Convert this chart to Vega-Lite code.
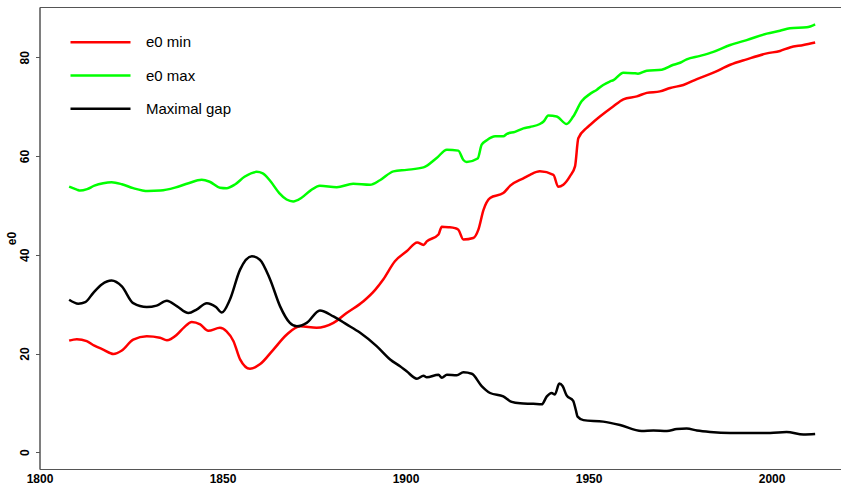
{
  "$schema": "https://vega.github.io/schema/vega-lite/v6.json",
  "width": 802,
  "height": 462,
  "autosize": {"type": "none"},
  "padding": {"left": 39.5, "top": 7, "right": 0, "bottom": 16},
  "background": "white",
  "config": {
    "font": "Liberation Sans",
    "view": {"stroke": "#555555", "strokeWidth": 1}
  },
  "datasets": {
    "d": [
      {"year":1808.1,"value":53.8,"series":"e0 max"},
      {"year":1810.2,"value":53.2,"series":"e0 max"},
      {"year":1811.1,"value":53.0,"series":"e0 max"},
      {"year":1813,"value":53.3,"series":"e0 max"},
      {"year":1815,"value":54.0,"series":"e0 max"},
      {"year":1817.4,"value":54.5,"series":"e0 max"},
      {"year":1819.7,"value":54.7,"series":"e0 max"},
      {"year":1822.5,"value":54.3,"series":"e0 max"},
      {"year":1825.6,"value":53.5,"series":"e0 max"},
      {"year":1829.6,"value":52.9,"series":"e0 max"},
      {"year":1833,"value":53.0,"series":"e0 max"},
      {"year":1837,"value":53.6,"series":"e0 max"},
      {"year":1840.7,"value":54.5,"series":"e0 max"},
      {"year":1844.3,"value":55.2,"series":"e0 max"},
      {"year":1846.5,"value":54.8,"series":"e0 max"},
      {"year":1849.3,"value":53.6,"series":"e0 max"},
      {"year":1851.1,"value":53.5,"series":"e0 max"},
      {"year":1853.5,"value":54.3,"series":"e0 max"},
      {"year":1856,"value":55.8,"series":"e0 max"},
      {"year":1859.3,"value":56.8,"series":"e0 max"},
      {"year":1861,"value":56.5,"series":"e0 max"},
      {"year":1863,"value":55.0,"series":"e0 max"},
      {"year":1865.5,"value":52.5,"series":"e0 max"},
      {"year":1867.5,"value":51.2,"series":"e0 max"},
      {"year":1869.3,"value":50.8,"series":"e0 max"},
      {"year":1871.5,"value":51.5,"series":"e0 max"},
      {"year":1874,"value":53.0,"series":"e0 max"},
      {"year":1876.6,"value":54.0,"series":"e0 max"},
      {"year":1881.2,"value":53.7,"series":"e0 max"},
      {"year":1885.7,"value":54.4,"series":"e0 max"},
      {"year":1890.3,"value":54.2,"series":"e0 max"},
      {"year":1893,"value":55.1,"series":"e0 max"},
      {"year":1896.7,"value":56.9,"series":"e0 max"},
      {"year":1900.3,"value":57.2,"series":"e0 max"},
      {"year":1904.9,"value":57.7,"series":"e0 max"},
      {"year":1908.5,"value":59.6,"series":"e0 max"},
      {"year":1911.3,"value":61.3,"series":"e0 max"},
      {"year":1914.4,"value":61.1,"series":"e0 max"},
      {"year":1915.8,"value":59.2,"series":"e0 max"},
      {"year":1916.7,"value":58.8,"series":"e0 max"},
      {"year":1919.7,"value":59.5,"series":"e0 max"},
      {"year":1920.8,"value":62.3,"series":"e0 max"},
      {"year":1922.2,"value":63.2,"series":"e0 max"},
      {"year":1924.5,"value":64.0,"series":"e0 max"},
      {"year":1926.7,"value":64.0,"series":"e0 max"},
      {"year":1927.7,"value":64.5,"series":"e0 max"},
      {"year":1929.9,"value":64.9,"series":"e0 max"},
      {"year":1932.2,"value":65.6,"series":"e0 max"},
      {"year":1934.0,"value":65.9,"series":"e0 max"},
      {"year":1936.7,"value":66.5,"series":"e0 max"},
      {"year":1937.7,"value":67.0,"series":"e0 max"},
      {"year":1939.0,"value":68.2,"series":"e0 max"},
      {"year":1941.3,"value":68.0,"series":"e0 max"},
      {"year":1944.0,"value":66.5,"series":"e0 max"},
      {"year":1945.8,"value":68.0,"series":"e0 max"},
      {"year":1948.1,"value":71.1,"series":"e0 max"},
      {"year":1950.4,"value":72.6,"series":"e0 max"},
      {"year":1952.2,"value":73.4,"series":"e0 max"},
      {"year":1954.0,"value":74.4,"series":"e0 max"},
      {"year":1955.8,"value":75.1,"series":"e0 max"},
      {"year":1956.8,"value":75.4,"series":"e0 max"},
      {"year":1959.5,"value":76.9,"series":"e0 max"},
      {"year":1962.2,"value":76.8,"series":"e0 max"},
      {"year":1963.5,"value":76.7,"series":"e0 max"},
      {"year":1965.9,"value":77.3,"series":"e0 max"},
      {"year":1970.0,"value":77.5,"series":"e0 max"},
      {"year":1973.2,"value":78.5,"series":"e0 max"},
      {"year":1975.0,"value":78.9,"series":"e0 max"},
      {"year":1976.8,"value":79.6,"series":"e0 max"},
      {"year":1980.5,"value":80.3,"series":"e0 max"},
      {"year":1984.1,"value":81.1,"series":"e0 max"},
      {"year":1988.7,"value":82.5,"series":"e0 max"},
      {"year":1993.2,"value":83.5,"series":"e0 max"},
      {"year":1998.7,"value":84.8,"series":"e0 max"},
      {"year":2002.3,"value":85.4,"series":"e0 max"},
      {"year":2005.0,"value":85.9,"series":"e0 max"},
      {"year":2009.6,"value":86.1,"series":"e0 max"},
      {"year":2011.9,"value":86.7,"series":"e0 max"},

      {"year":1808.1,"value":22.6,"series":"e0 min"},
      {"year":1810.2,"value":22.9,"series":"e0 min"},
      {"year":1812.9,"value":22.5,"series":"e0 min"},
      {"year":1815,"value":21.6,"series":"e0 min"},
      {"year":1817.4,"value":20.8,"series":"e0 min"},
      {"year":1820.2,"value":19.9,"series":"e0 min"},
      {"year":1822.5,"value":20.6,"series":"e0 min"},
      {"year":1825.6,"value":22.8,"series":"e0 min"},
      {"year":1829.3,"value":23.5,"series":"e0 min"},
      {"year":1832.9,"value":23.2,"series":"e0 min"},
      {"year":1834.8,"value":22.7,"series":"e0 min"},
      {"year":1837.5,"value":23.8,"series":"e0 min"},
      {"year":1839.5,"value":25.3,"series":"e0 min"},
      {"year":1841.6,"value":26.4,"series":"e0 min"},
      {"year":1843.9,"value":25.9,"series":"e0 min"},
      {"year":1846.1,"value":24.6,"series":"e0 min"},
      {"year":1849.3,"value":25.2,"series":"e0 min"},
      {"year":1851.1,"value":24.5,"series":"e0 min"},
      {"year":1853.0,"value":22.5,"series":"e0 min"},
      {"year":1854.8,"value":18.8,"series":"e0 min"},
      {"year":1857.5,"value":16.9,"series":"e0 min"},
      {"year":1860.2,"value":17.8,"series":"e0 min"},
      {"year":1863.9,"value":20.8,"series":"e0 min"},
      {"year":1867.5,"value":23.8,"series":"e0 min"},
      {"year":1871.2,"value":25.5,"series":"e0 min"},
      {"year":1875.7,"value":25.2,"series":"e0 min"},
      {"year":1880.3,"value":26.2,"series":"e0 min"},
      {"year":1883.9,"value":28.2,"series":"e0 min"},
      {"year":1888.5,"value":30.6,"series":"e0 min"},
      {"year":1891.7,"value":32.9,"series":"e0 min"},
      {"year":1893.9,"value":35.0,"series":"e0 min"},
      {"year":1897.1,"value":38.7,"series":"e0 min"},
      {"year":1900.3,"value":40.7,"series":"e0 min"},
      {"year":1903.2,"value":42.5,"series":"e0 min"},
      {"year":1904.9,"value":42.0,"series":"e0 min"},
      {"year":1905.8,"value":42.7,"series":"e0 min"},
      {"year":1909.0,"value":44.1,"series":"e0 min"},
      {"year":1909.9,"value":45.7,"series":"e0 min"},
      {"year":1911.7,"value":45.6,"series":"e0 min"},
      {"year":1913.5,"value":45.4,"series":"e0 min"},
      {"year":1914.4,"value":45.1,"series":"e0 min"},
      {"year":1915.8,"value":43.1,"series":"e0 min"},
      {"year":1918.5,"value":43.4,"series":"e0 min"},
      {"year":1919.9,"value":45.1,"series":"e0 min"},
      {"year":1921.3,"value":49.1,"series":"e0 min"},
      {"year":1923.1,"value":51.5,"series":"e0 min"},
      {"year":1926.7,"value":52.5,"series":"e0 min"},
      {"year":1928.6,"value":54.0,"series":"e0 min"},
      {"year":1932.2,"value":55.5,"series":"e0 min"},
      {"year":1934.0,"value":56.2,"series":"e0 min"},
      {"year":1936.7,"value":56.9,"series":"e0 min"},
      {"year":1940.4,"value":56.2,"series":"e0 min"},
      {"year":1941.7,"value":53.8,"series":"e0 min"},
      {"year":1943.1,"value":54.2,"series":"e0 min"},
      {"year":1944.9,"value":55.9,"series":"e0 min"},
      {"year":1946.3,"value":57.9,"series":"e0 min"},
      {"year":1947.2,"value":63.6,"series":"e0 min"},
      {"year":1949.5,"value":65.7,"series":"e0 min"},
      {"year":1950.4,"value":66.3,"series":"e0 min"},
      {"year":1953.1,"value":68.0,"series":"e0 min"},
      {"year":1956.8,"value":70.1,"series":"e0 min"},
      {"year":1959.5,"value":71.5,"series":"e0 min"},
      {"year":1963.2,"value":72.1,"series":"e0 min"},
      {"year":1965.9,"value":72.8,"series":"e0 min"},
      {"year":1969.5,"value":73.1,"series":"e0 min"},
      {"year":1972.3,"value":73.8,"series":"e0 min"},
      {"year":1975.9,"value":74.4,"series":"e0 min"},
      {"year":1979.6,"value":75.6,"series":"e0 min"},
      {"year":1984.1,"value":76.9,"series":"e0 min"},
      {"year":1988.7,"value":78.5,"series":"e0 min"},
      {"year":1993.2,"value":79.6,"series":"e0 min"},
      {"year":1998.7,"value":80.8,"series":"e0 min"},
      {"year":2002.3,"value":81.3,"series":"e0 min"},
      {"year":2005.0,"value":82.0,"series":"e0 min"},
      {"year":2008.7,"value":82.5,"series":"e0 min"},
      {"year":2011.9,"value":83.0,"series":"e0 min"},

      {"year":1808.1,"value":30.9,"series":"Maximal gap"},
      {"year":1810.6,"value":30.1,"series":"Maximal gap"},
      {"year":1812.5,"value":30.4,"series":"Maximal gap"},
      {"year":1814.7,"value":32.3,"series":"Maximal gap"},
      {"year":1817,"value":34.0,"series":"Maximal gap"},
      {"year":1819.7,"value":34.8,"series":"Maximal gap"},
      {"year":1822.5,"value":33.6,"series":"Maximal gap"},
      {"year":1825.6,"value":30.2,"series":"Maximal gap"},
      {"year":1829.3,"value":29.4,"series":"Maximal gap"},
      {"year":1832.0,"value":29.7,"series":"Maximal gap"},
      {"year":1834.8,"value":30.7,"series":"Maximal gap"},
      {"year":1837.5,"value":29.6,"series":"Maximal gap"},
      {"year":1840.7,"value":28.2,"series":"Maximal gap"},
      {"year":1842.9,"value":28.9,"series":"Maximal gap"},
      {"year":1845.7,"value":30.2,"series":"Maximal gap"},
      {"year":1848.2,"value":29.4,"series":"Maximal gap"},
      {"year":1849.8,"value":28.3,"series":"Maximal gap"},
      {"year":1852.0,"value":30.9,"series":"Maximal gap"},
      {"year":1854.8,"value":37.0,"series":"Maximal gap"},
      {"year":1858.0,"value":39.7,"series":"Maximal gap"},
      {"year":1860.2,"value":39.0,"series":"Maximal gap"},
      {"year":1863.0,"value":35.0,"series":"Maximal gap"},
      {"year":1865.7,"value":29.6,"series":"Maximal gap"},
      {"year":1868.4,"value":26.2,"series":"Maximal gap"},
      {"year":1870.3,"value":25.5,"series":"Maximal gap"},
      {"year":1873.0,"value":26.2,"series":"Maximal gap"},
      {"year":1876.6,"value":28.7,"series":"Maximal gap"},
      {"year":1880.3,"value":27.5,"series":"Maximal gap"},
      {"year":1883.9,"value":25.9,"series":"Maximal gap"},
      {"year":1887.6,"value":24.2,"series":"Maximal gap"},
      {"year":1892.1,"value":21.5,"series":"Maximal gap"},
      {"year":1895.8,"value":18.8,"series":"Maximal gap"},
      {"year":1898.5,"value":17.4,"series":"Maximal gap"},
      {"year":1900.3,"value":16.4,"series":"Maximal gap"},
      {"year":1903.1,"value":14.9,"series":"Maximal gap"},
      {"year":1904.9,"value":15.5,"series":"Maximal gap"},
      {"year":1905.8,"value":15.2,"series":"Maximal gap"},
      {"year":1909.0,"value":15.7,"series":"Maximal gap"},
      {"year":1909.9,"value":15.1,"series":"Maximal gap"},
      {"year":1911.3,"value":15.7,"series":"Maximal gap"},
      {"year":1914.0,"value":15.6,"series":"Maximal gap"},
      {"year":1915.8,"value":16.2,"series":"Maximal gap"},
      {"year":1918.1,"value":15.9,"series":"Maximal gap"},
      {"year":1920.8,"value":13.4,"series":"Maximal gap"},
      {"year":1923.1,"value":12.0,"series":"Maximal gap"},
      {"year":1926.7,"value":11.3,"series":"Maximal gap"},
      {"year":1929.0,"value":10.2,"series":"Maximal gap"},
      {"year":1931.3,"value":9.9,"series":"Maximal gap"},
      {"year":1934.9,"value":9.8,"series":"Maximal gap"},
      {"year":1937.2,"value":9.7,"series":"Maximal gap"},
      {"year":1938.6,"value":11.3,"series":"Maximal gap"},
      {"year":1939.9,"value":12.0,"series":"Maximal gap"},
      {"year":1940.8,"value":11.7,"series":"Maximal gap"},
      {"year":1942.0,"value":13.9,"series":"Maximal gap"},
      {"year":1942.9,"value":13.4,"series":"Maximal gap"},
      {"year":1944.0,"value":11.5,"series":"Maximal gap"},
      {"year":1945.8,"value":10.4,"series":"Maximal gap"},
      {"year":1946.5,"value":8.6,"series":"Maximal gap"},
      {"year":1947.0,"value":7.2,"series":"Maximal gap"},
      {"year":1948.6,"value":6.5,"series":"Maximal gap"},
      {"year":1954.0,"value":6.2,"series":"Maximal gap"},
      {"year":1958.6,"value":5.5,"series":"Maximal gap"},
      {"year":1964.5,"value":4.3,"series":"Maximal gap"},
      {"year":1967.7,"value":4.4,"series":"Maximal gap"},
      {"year":1971.4,"value":4.3,"series":"Maximal gap"},
      {"year":1974.1,"value":4.7,"series":"Maximal gap"},
      {"year":1976.8,"value":4.8,"series":"Maximal gap"},
      {"year":1979.6,"value":4.4,"series":"Maximal gap"},
      {"year":1983.2,"value":4.1,"series":"Maximal gap"},
      {"year":1988.7,"value":3.9,"series":"Maximal gap"},
      {"year":1995.0,"value":3.9,"series":"Maximal gap"},
      {"year":1999.6,"value":3.9,"series":"Maximal gap"},
      {"year":2004.1,"value":4.1,"series":"Maximal gap"},
      {"year":2008.7,"value":3.6,"series":"Maximal gap"},
      {"year":2011.9,"value":3.7,"series":"Maximal gap"}
    ]
  },
  "data": {"name": "d"},
  "mark": {"type": "line", "strokeWidth": 2.5, "interpolate": "monotone"},
  "encoding": {
    "x": {
      "field": "year", "type": "quantitative",
      "scale": {"domain": [1800, 2019.1], "nice": false, "zero": false},
      "axis": {
        "values": [1800, 1850, 1900, 1950, 2000], "format": "d",
        "title": null, "grid": false, "ticks": false,
        "labelPadding": 4.5, "labelFontSize": 12, "labelFontWeight": "bold",
        "labelColor": "#000000", "domainColor": "#555555", "labelFlush": false
      }
    },
    "y": {
      "field": "value", "type": "quantitative",
      "scale": {"domain": [-3.4, 90.2], "nice": false, "zero": false},
      "axis": {
        "values": [0, 20, 40, 60, 80], "title": "e0", "grid": false,
        "tickSize": 4, "tickColor": "#555555", "domainColor": "#555555",
        "labelAngle": -90, "labelAlign": "center", "labelBaseline": "bottom",
        "labelPadding": 4, "labelFontSize": 12, "labelFontWeight": "bold",
        "labelColor": "#000000", "titleFontSize": 12, "titleFontWeight": "bold",
        "titleColor": "#000000", "titlePadding": 0
      }
    },
    "color": {
      "field": "series", "type": "nominal",
      "scale": {"domain": ["e0 min", "e0 max", "Maximal gap"], "range": ["#FF0000", "#00FF00", "#000000"]},
      "legend": {
        "title": null, "orient": "none", "legendX": 44.5, "legendY": 18.7,
        "symbolType": "M-2,0H2", "symbolSize": 900, "symbolStrokeWidth": 2.5,
        "labelFontSize": 15, "labelColor": "#000000", "labelOffset": 29,
        "rowPadding": 8.3, "labelFont": "Liberation Sans"
      }
    }
  }
}
